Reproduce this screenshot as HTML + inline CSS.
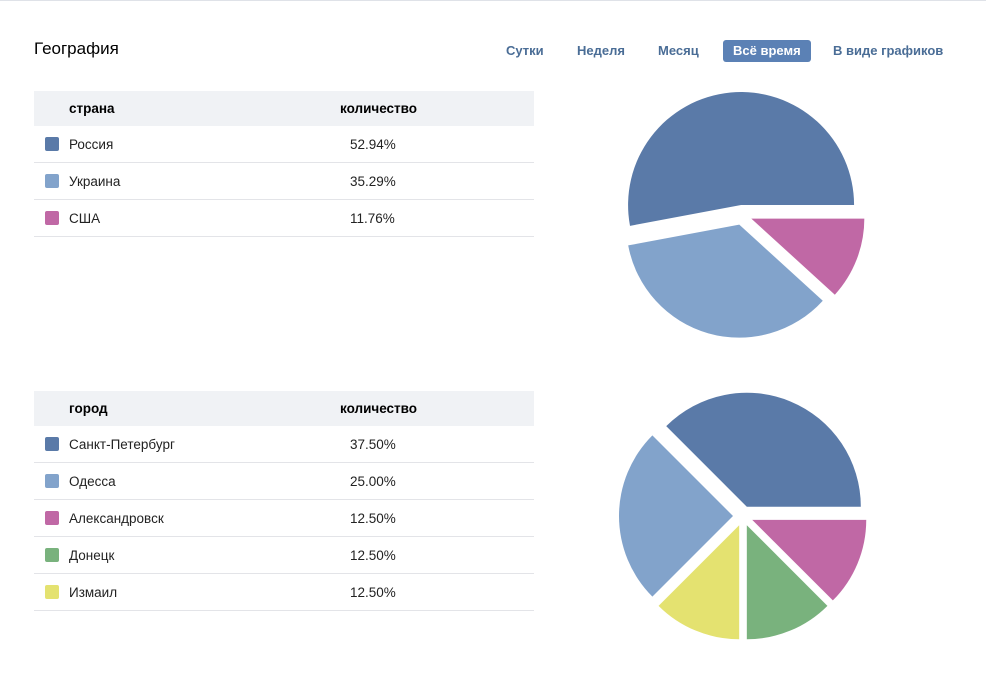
<!DOCTYPE html>
<html><head><meta charset="utf-8"><style>
body{margin:0;width:986px;height:686px;background:#fff;font-family:"Liberation Sans",sans-serif;position:relative;overflow:hidden}
.top{position:absolute;left:0;top:0;width:986px;height:1px;background:#dfe2e8}
.title{position:absolute;left:34px;top:39px;font-size:17px;color:#000}
.tab{position:absolute;top:40px;height:22px;line-height:22px;font-size:13px;font-weight:bold;color:#4a6d96}
.tab.act{background:#5b81b5;color:#fff;border-radius:3px;padding:0 10px}
table{position:absolute;left:34px;width:500px;border-collapse:collapse;font-size:13.5px}
th{background:#f0f2f5;height:35px;padding:0;text-align:left;font-weight:bold;font-size:13.5px;color:#000}
td{height:36px;border-bottom:1px solid #e3e4e8;color:#222;padding:0}
.sw{display:inline-block;width:14px;height:14px;border-radius:2px;margin:0 10px 0 11px;vertical-align:-2px}
</style></head><body>
<div class="top"></div>
<div class="title">География</div>
<div class="tab" style="left:506px">Сутки</div>
<div class="tab" style="left:577px">Неделя</div>
<div class="tab" style="left:658px">Месяц</div>
<div class="tab act" style="left:723px;width:68px">Всё время</div>
<div class="tab" style="left:833px">В виде графиков</div>
<table id="t1" style="top:91px"></table>
<table id="t2" style="top:391px"></table>
<svg id="pies" width="986" height="686" style="position:absolute;left:0;top:0"></svg>
<script>
const countryLabels=["Россия","Украина","США"];
const countryValues=[52.94,35.29,11.76];
const cityLabels=["Санкт-Петербург","Одесса","Александровск","Донецк","Измаил"];
const cityValues=[37.5,25.0,12.5,12.5,12.5];
const palette=["#5a7aa8","#82a3cb","#c068a5","#79b27d","#e4e270"];
function table(id,head,labels,values){
  const t=document.getElementById(id);
  let h='<tr><th style="padding-left:35px;width:271px">'+head+'</th><th>количество</th></tr>';
  labels.forEach((l,i)=>{h+='<tr><td><span class="sw" style="background:'+palette[i]+'"></span>'+l+'</td><td style="padding-left:10px">'+values[i].toFixed(2)+'%</td></tr>';});
  t.innerHTML=h;
}
table('t1','страна',countryLabels,countryValues);
table('t2','город',cityLabels,cityValues);
const svg=document.getElementById('pies');
function pie(cx,cy,r,off,values){
  const idx=values.map((v,i)=>i).sort((a,b)=>values[a]-values[b]);
  const tot=values.reduce((a,b)=>a+b,0);
  let a=0;
  idx.forEach(i=>{
    const s=a,e=a+values[i]/tot*2*Math.PI;a=e;
    const m=(s+e)/2,ox=cx+off*Math.cos(m),oy=cy+off*Math.sin(m);
    const large=(e-s)>Math.PI?1:0;
    const p=document.createElementNS('http://www.w3.org/2000/svg','path');
    p.setAttribute('d',`M${ox},${oy}L${ox+r*Math.cos(s)},${oy+r*Math.sin(s)}A${r},${r} 0 ${large} 1 ${ox+r*Math.cos(e)},${oy+r*Math.sin(e)}Z`);
    p.setAttribute('fill',palette[i]);
    
    
    svg.appendChild(p);
  });
}
pie(742,215,113,10,countryValues);
pie(743,516,114,10,cityValues);
</script>
</body></html>
